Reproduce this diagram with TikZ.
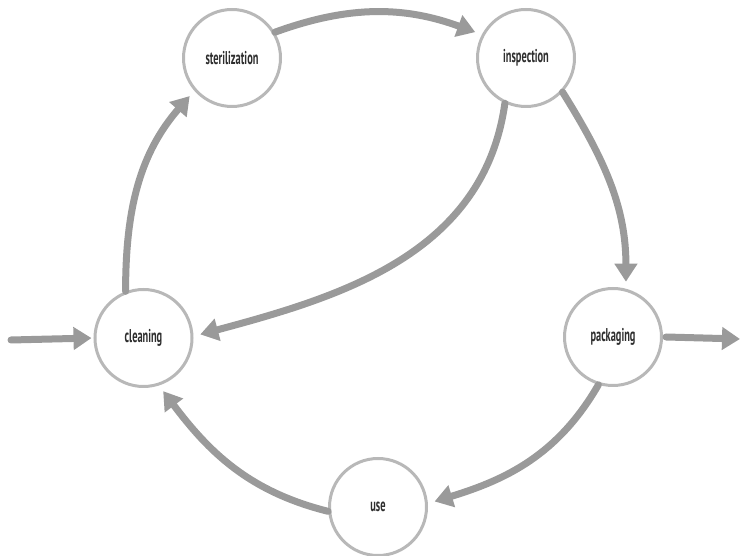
\documentclass[tikz,border=0pt]{standalone}
\usepackage{fontspec}
\newfontfamily\labfont{PT Sans}[FakeStretch=0.56]
\usetikzlibrary{arrows.meta}
\definecolor{arrgray}{HTML}{9A9A9A}
\definecolor{circgray}{HTML}{B8B8B8}
\definecolor{txtgray}{HTML}{2E2E2E}
\tikzset{
  stage/.style={circle, draw=circgray, line width=3pt, fill=white, minimum size=97pt, inner sep=0pt,
    font=\labfont\bfseries\fontsize{18.5}{20}\selectfont, text=txtgray},
  flow/.style={draw=arrgray, line width=7pt, line cap=round,
    -{Triangle[length=18pt,width=22pt]}, shorten >=7pt},
}
\begin{document}
\begin{tikzpicture}[x=1pt,y=1pt]
\useasboundingbox (0,0) rectangle (741,556);
\node[stage] (clean) at (143.5,218) {cleaning};
\node[stage] (ster) at (232,498) {sterilization};
\node[stage] (insp) at (526,498) {inspection};
\node[stage] (pack) at (613,219) {packaging};
\node[stage] (use) at (378,49) {use};
\coordinate (in) at (11,216);
\coordinate (out) at (740,217);
\draw[flow, shorten >=2pt] (in) -- (clean.west);
\draw[flow, shorten >=0pt] (pack.east) ++(3,0) coordinate (pe) -- (out);
\draw[flow] (ster.31) to[out=20, in=160] (insp.152);
\draw[flow] (insp.-43) to[out=-58, in=90] (pack.75);
\draw[flow] (insp.245) to[out=-98, in=15] (clean.2);
\draw[flow] (clean.111) to[out=90, in=229] (ster.221);
\draw[flow] (pack.253) to[out=240, in=17] (use.4);
\draw[flow] (use.185) to[out=166, in=307] (clean.-72);
\end{tikzpicture}
\end{document}
